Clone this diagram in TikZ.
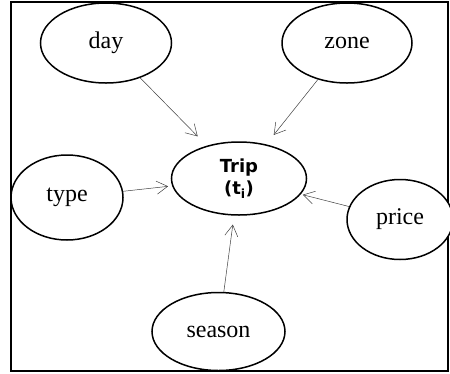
\documentclass[tikz,border=0pt]{standalone}
\usepackage{fontspec}
\setmainfont{Liberation Serif}
\newfontfamily\tripfont{DejaVu Sans}
\usetikzlibrary{shapes.geometric,arrows.meta}
\begin{document}
\begin{tikzpicture}[x=1pt,y=-1pt,
  attr/.style={ellipse,draw=black,line width=1.5pt,fill=white,inner sep=0pt,
    font=\fontsize{24}{27}\selectfont},
  link/.style={draw=black!75,line width=0.5pt,-{Straight Barb[length=11pt,width=13pt,line width=0.5pt]}}]
\useasboundingbox (0,0) rectangle (450,373);
\begin{scope}
\clip (0,0) rectangle (450,373);
\node[draw=black,line width=1.2pt,minimum width=437pt,minimum height=369pt,inner sep=0pt] (frame) at (229.5,186.5) {};
\node[attr,minimum width=131pt,minimum height=80pt] (day) at (106,43) {day};
\node[attr,minimum width=130pt,minimum height=80pt] (zone) at (347,43) {zone};
\node[attr,minimum width=135pt,minimum height=73pt,align=center,font=\tripfont\bfseries\fontsize{18}{22}\selectfont] (trip) at (239,178.5) {Trip\\(t\textsubscript{i})};
\node[attr,minimum width=112pt,minimum height=85pt] (type) at (67,197.5) {type};
\node[attr,minimum width=106pt,minimum height=80pt] (price) at (400,219.5) {price};
\node[attr,minimum width=133pt,minimum height=78pt] (season) at (218.5,331.5) {season};
\draw[link,shorten >=13pt] (day) -- (trip);
\draw[link,shorten >=12pt] (zone) -- (trip);
\draw[link,shorten >=4pt] (type) -- (trip);
\draw[link,shorten >=2pt] (price) -- (trip);
\draw[link,shorten >=9pt] (season) -- (trip);
\end{scope}
\end{tikzpicture}
\end{document}
